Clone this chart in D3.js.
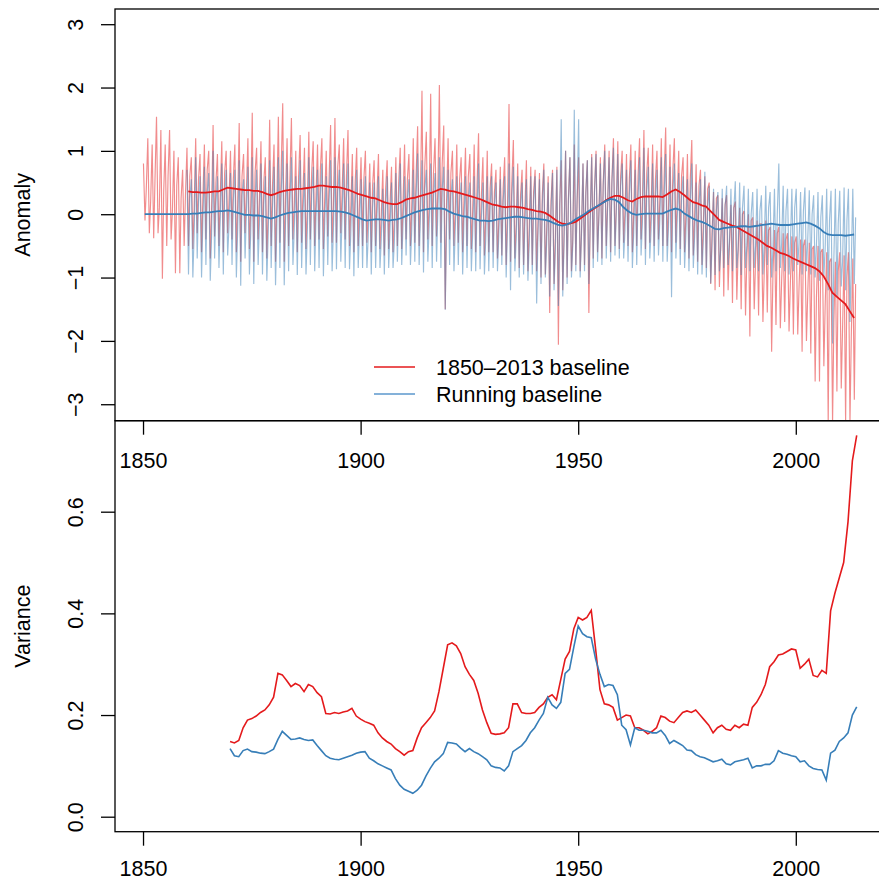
<!doctype html>
<html>

<head>
  <meta charset="utf-8">
  <title>Anomaly and variance</title>
  <script src="https://d3js.org/d3.v7.min.js"></script>
  <style>
    body {
      margin: 0;
      background: #fff;
    }

    svg {
      display: block;
      font-family: "Liberation Sans", Arial, Helvetica, sans-serif;
    }
  </style>
</head>

<body>
  <div id="chart"></div>

  <script>
    // ---- data ----
    var xTicks = [1850, 1900, 1950, 2000];
    var anomalyTicks = [-3, -2, -1, 0, 1, 2, 3];
    var varianceTicks = [0.0, 0.2, 0.4, 0.6];
    var legendLabels = ["1850\u20132013 baseline", "Running baseline"];

    // monthly anomaly, summarised per year as a high, a low and an in-between value
    var redStart = 1850;
    var redHi = [
      0.80, 1.20, 1.10, 1.54, 1.33, 1.10, 1.33, 1.00, 0.90, 0.70,
      1.05, 0.90, 1.20, 0.95, 1.10, 1.00, 1.41, 0.95, 1.15, 1.00,
      1.00, 1.10, 1.44, 0.95, 1.20, 1.60, 1.05, 1.15, 0.90, 1.49,
      1.10, 1.54, 1.75, 1.20, 1.52, 1.00, 1.25, 1.05, 1.30, 1.15,
      1.10, 1.20, 1.00, 1.41, 1.52, 1.10, 1.20, 1.33, 0.95, 1.05,
      0.90, 1.00, 0.80, 0.85, 0.95, 0.70, 0.85, 0.75, 0.90, 1.05,
      1.10, 0.95, 1.20, 1.39, 1.95, 1.30, 1.90, 1.20, 2.04, 1.40,
      1.20, 1.00, 1.10, 0.90, 1.05, 0.95, 1.10, 1.28, 0.90, 1.00,
      0.80, 0.70, 0.75, 0.90, 1.74, 1.17, 0.80, 0.70, 0.85, 0.75,
      0.70, 0.65, 0.80, 0.60, 0.70, 0.75, 0.85, 1.00, 0.90, 1.10,
      0.90, 0.80, 0.85, 0.95, 1.00, 0.90, 1.10, 1.00, 1.20, 1.15,
      1.00, 0.95, 1.10, 1.00, 1.20, 1.33, 1.05, 1.10, 1.00, 1.20,
      1.37, 1.10, 1.20, 1.00, 0.90, 0.95, 1.17, 0.79, 0.70, 0.60,
      0.50, 0.35, 0.30, 0.25, 0.30, 0.15, 0.20, 0.10, 0.05, 0.00,
      -0.05, -0.10, -0.15, -0.10, -0.20, -0.25, -0.20, -0.30, -0.30, -0.35,
      -0.35, -0.40, -0.40, -0.45, -0.50, -0.50, -0.55, -0.60, -0.70, -0.75,
      -0.60, -0.65, -0.60, -0.70
    ];
    var redLo = [
      -0.10, -0.30, -0.38, -0.30, -1.02, -0.50, -0.40, -0.93, -0.93, -0.50,
      -0.50, -0.55, -0.30, -0.60, -0.40, -0.70, -0.35, -0.50, -0.60, -0.30,
      -0.40, -0.60, -0.75, -0.30, -0.55, -0.75, -0.40, -0.60, -0.70, -0.50,
      -0.75, -0.45, -0.75, -0.50, -0.40, -0.60, -0.45, -0.55, -0.40, -0.50,
      -0.40, -0.55, -0.35, -0.45, -0.45, -0.30, -0.40, -0.50, -0.60, -0.50,
      -0.50, -0.45, -0.60, -0.50, -0.55, -0.65, -0.55, -0.60, -0.50, -0.55,
      -0.40, -0.50, -0.45, -0.50, -0.60, -0.40, -0.50, -0.35, -0.45, -1.50,
      -0.40, -0.50, -0.45, -0.60, -0.50, -0.55, -0.60, -0.50, -0.65, -0.60,
      -0.60, -0.70, -0.65, -0.80, -0.75, -0.70, -0.85, -0.80, -0.90, -0.80,
      -0.90, -1.00, -0.95, -1.56, -1.10, -2.06, -1.20, -1.00, -0.90, -0.80,
      -0.90, -0.80, -1.56, -0.70, -0.60, -0.70, -0.50, -0.60, -0.50, -0.55,
      -0.45, -0.50, -0.60, -0.50, -0.40, -0.55, -0.45, -0.50, -0.40, -0.50,
      -0.50, -0.60, -0.45, -0.55, -0.60, -0.70, -0.65, -0.75, -0.80, -0.85,
      -1.10, -1.20, -1.15, -1.30, -1.20, -1.40, -1.35, -1.50, -1.60, -1.93,
      -1.50, -1.60, -1.70, -1.55, -2.17, -1.75, -1.80, -1.70, -1.85, -1.90,
      -1.90, -2.17, -2.00, -2.20, -2.64, -2.64, -2.40, -3.30, -3.30, -2.80,
      -2.75, -3.30, -3.30, -2.93
    ];
    var redMid = [
      0.40, 0.20, 0.55, 0.10, 0.35, 0.60, 0.05, 0.45, 0.25, 0.30,
      0.60, 0.10, 0.55, 0.25, 0.70, 0.05, 0.50, 0.30, 0.65, 0.20,
      0.55, 0.15, 0.60, 0.35, 0.10, 0.65, 0.25, 0.50, 0.05, 0.45,
      0.20, 0.70, 0.30, 0.55, 0.15, 0.60, 0.35, 0.10, 0.65, 0.30,
      0.70, 0.25, 0.55, 0.15, 0.75, 0.35, 0.60, 0.10, 0.50, 0.20,
      0.55, 0.05, 0.45, 0.30, 0.00, 0.40, 0.15, -0.05, 0.50, 0.20,
      0.55, 0.10, 0.60, 0.30, 0.75, 0.15, 0.65, 0.40, 0.80, 0.20,
      0.65, 0.10, 0.55, 0.25, 0.60, 0.05, 0.45, 0.30, -0.05, 0.40,
      0.35, -0.10, 0.40, 0.05, 0.50, -0.15, 0.30, 0.10, -0.20, 0.35,
      -0.15, 0.30, -0.25, 0.20, -0.35, 0.15, -0.30, 0.25, -0.40, 0.20,
      -0.30, 0.35, -0.10, 0.40, 0.00, 0.50, 0.15, 0.55, 0.10, 0.60,
      0.05, 0.55, 0.00, 0.60, 0.15, 0.65, 0.05, 0.55, 0.20, 0.60,
      0.10, 0.70, 0.25, 0.60, 0.00, 0.55, -0.05, 0.45, -0.15, 0.40,
      -0.30, 0.25, -0.45, 0.15, -0.50, 0.10, -0.60, 0.00, -0.70, -0.10,
      -0.75, -0.15, -0.90, -0.25, -0.95, -0.30, -1.05, -0.40, -1.10, -0.45,
      -1.15, -0.50, -1.25, -0.55, -1.30, -0.60, -1.45, -0.75, -1.70, -0.90,
      -1.80, -1.00, -1.95, -1.10
    ];

    var bluStart = 1860;
    var bluHi = [
      0.70, 0.55, 0.90, 0.60, 0.75, 0.65, 1.00, 0.60, 0.80, 0.70,
      0.65, 0.70, 0.85, 0.55, 0.75, 0.90, 0.70, 0.80, 0.60, 0.85,
      0.75, 0.90, 1.00, 0.80, 0.90, 0.60, 0.85, 0.65, 0.90, 0.75,
      0.70, 0.80, 0.60, 0.85, 0.90, 0.70, 0.80, 0.80, 0.60, 0.70,
      0.55, 0.60, 0.50, 0.50, 0.60, 0.40, 0.60, 0.50, 0.65, 0.80,
      0.60, 0.55, 0.70, 0.96, 0.85, 0.70, 0.80, 0.65, 0.90, 0.75,
      0.70, 0.55, 0.60, 0.50, 0.60, 0.50, 0.60, 0.80, 0.50, 0.60,
      0.60, 0.50, 0.55, 0.60, 0.80, 0.75, 0.60, 0.50, 0.55, 0.60,
      0.60, 0.55, 0.70, 0.50, 0.65, 0.70, 1.50, 1.00, 0.90, 1.65,
      1.50, 0.80, 0.85, 0.90, 0.95, 0.80, 1.00, 0.90, 1.05, 0.95,
      0.80, 0.70, 0.85, 0.70, 0.90, 1.05, 0.75, 0.80, 0.70, 0.90,
      0.95, 0.75, 0.80, 0.65, 0.60, 0.55, 0.80, 0.50, 0.55, 0.67,
      0.45, 0.40, 0.35, 0.40, 0.45, 0.40, 0.52, 0.50, 0.45, 0.40,
      0.35, 0.40, 0.30, 0.45, 0.35, 0.40, 0.80, 0.45, 0.40, 0.40,
      0.40, 0.35, 0.42, 0.38, 0.30, 0.35, 0.30, 0.40, 0.37, 0.40,
      0.37, 0.42, 0.40, 0.40
    ];
    var bluLo = [
      -0.95, -1.00, -0.70, -1.00, -0.80, -1.05, -0.70, -0.85, -0.95, -0.65,
      -0.80, -1.00, -1.13, -0.70, -0.95, -1.10, -0.80, -0.95, -1.05, -0.85,
      -1.12, -0.85, -1.12, -0.90, -0.80, -0.96, -0.85, -0.95, -0.80, -0.90,
      -0.85, -0.98, -0.80, -0.90, -0.87, -0.75, -0.85, -0.87, -0.98, -0.85,
      -0.85, -0.85, -0.95, -0.85, -0.85, -0.95, -0.85, -0.85, -0.75, -0.80,
      -0.65, -0.80, -0.75, -0.80, -0.92, -0.75, -0.85, -0.75, -0.85, -1.51,
      -0.80, -0.90, -0.80, -0.95, -0.85, -0.90, -0.90, -0.87, -0.95, -0.90,
      -0.85, -0.90, -0.80, -1.00, -1.20, -0.90, -1.00, -0.95, -1.05, -0.95,
      -1.41, -1.10, -1.00, -1.30, -1.20, -1.45, -1.30, -1.10, -1.00, -0.90,
      -1.00, -0.90, -1.10, -0.85, -0.75, -0.80, -0.70, -0.75, -0.65, -0.70,
      -0.70, -0.75, -0.85, -0.80, -0.65, -0.80, -0.70, -0.75, -0.65, -0.75,
      -0.75, -1.31, -0.70, -0.80, -0.85, -0.90, -0.85, -0.95, -0.95, -1.00,
      -1.09, -0.96, -0.90, -0.85, -0.80, -0.90, -0.85, -0.96, -0.85, -0.90,
      -0.85, -0.90, -0.95, -0.80, -1.00, -0.90, -0.85, -0.90, -0.95, -0.90,
      -0.80, -0.95, -0.90, -0.95, -1.00, -1.05, -0.98, -1.20, -2.04, -1.30,
      -1.14, -1.20, -1.70, -1.10
    ];
    var bluMid = [
      0.25, -0.30, 0.20, -0.10, 0.35, -0.35, 0.15, -0.05, 0.30, -0.20,
      0.20, -0.25, 0.30, 0.00, -0.30, 0.25, -0.15, 0.15, -0.35, 0.10,
      -0.20, 0.35, -0.10, 0.20, -0.25, 0.25, 0.00, -0.30, 0.30, -0.05,
      0.30, -0.15, 0.20, -0.25, 0.35, 0.00, 0.25, -0.30, 0.15, -0.20,
      0.20, -0.35, 0.10, -0.05, -0.40, 0.05, -0.25, -0.45, 0.15, -0.15,
      0.25, -0.25, 0.30, 0.00, 0.40, -0.20, 0.30, 0.05, 0.40, -0.15,
      0.30, -0.25, 0.20, -0.10, 0.25, -0.30, 0.10, -0.05, -0.40, 0.10,
      0.15, -0.35, 0.20, -0.20, 0.30, -0.40, 0.10, -0.15, -0.45, 0.20,
      -0.35, 0.15, -0.45, 0.05, -0.55, 0.00, -0.45, 0.20, -0.50, 0.25,
      -0.35, 0.30, -0.15, 0.35, -0.05, 0.45, 0.10, 0.50, 0.05, 0.45,
      -0.25, 0.30, -0.30, 0.25, -0.15, 0.35, -0.25, 0.25, -0.10, 0.30,
      -0.20, 0.35, -0.10, 0.30, -0.30, 0.20, -0.35, 0.15, -0.40, 0.10,
      -0.50, 0.05, -0.55, 0.10, -0.45, 0.05, -0.55, 0.10, -0.50, 0.00,
      -0.50, 0.05, -0.45, 0.10, -0.55, 0.00, -0.45, 0.05, -0.50, 0.10,
      -0.45, 0.05, -0.40, 0.00, -0.50, -0.05, -0.55, -0.10, -0.70, -0.15,
      -0.75, -0.10, -0.80, -0.05
    ];

    // running means (one value per year)
    var redMeanStart = 1860;
    var redMean = [
      0.36, 0.35, 0.35, 0.34, 0.34, 0.35, 0.36, 0.36, 0.39, 0.42,
      0.41, 0.40, 0.39, 0.38, 0.38, 0.37, 0.37, 0.35, 0.32, 0.30,
      0.32, 0.35, 0.37, 0.38, 0.39, 0.40, 0.40, 0.41, 0.42, 0.43,
      0.45, 0.45, 0.44, 0.43, 0.43, 0.42, 0.40, 0.38, 0.35, 0.32,
      0.30, 0.28, 0.26, 0.25, 0.22, 0.19, 0.17, 0.16, 0.16, 0.19,
      0.23, 0.25, 0.26, 0.28, 0.30, 0.32, 0.34, 0.37, 0.40, 0.39,
      0.37, 0.36, 0.34, 0.32, 0.30, 0.28, 0.26, 0.24, 0.21, 0.18,
      0.15, 0.14, 0.12, 0.11, 0.12, 0.12, 0.11, 0.10, 0.08, 0.07,
      0.05, 0.04, 0.02, -0.02, -0.07, -0.12, -0.15, -0.16, -0.14, -0.12,
      -0.07, -0.02, 0.03, 0.08, 0.12, 0.17, 0.22, 0.26, 0.29, 0.29,
      0.26, 0.22, 0.20, 0.24, 0.27, 0.28, 0.28, 0.28, 0.28, 0.27,
      0.31, 0.36, 0.39, 0.35, 0.30, 0.24, 0.19, 0.17, 0.14, 0.12,
      0.05, -0.02, -0.09, -0.12, -0.15, -0.18, -0.20, -0.24, -0.28, -0.32,
      -0.36, -0.40, -0.45, -0.50, -0.53, -0.57, -0.61, -0.63, -0.66, -0.70,
      -0.73, -0.76, -0.79, -0.82, -0.85, -0.90, -0.98, -1.10, -1.24, -1.30,
      -1.36, -1.42, -1.53, -1.64
    ];
    var bluMeanStart = 1850;
    var bluMean = [
      0.00, 0.00, 0.00, 0.00, 0.00, 0.00, 0.00, 0.00, 0.00, 0.00,
      0.00, 0.01, 0.01, 0.02, 0.03, 0.03, 0.04, 0.05, 0.05, 0.06,
      0.05, 0.03, 0.01, -0.01, -0.01, -0.02, -0.02, -0.03, -0.05, -0.07,
      -0.05, -0.02, 0.00, 0.02, 0.03, 0.04, 0.05, 0.05, 0.05, 0.05,
      0.05, 0.05, 0.05, 0.05, 0.05, 0.04, 0.03, 0.01, -0.02, -0.05,
      -0.08, -0.10, -0.09, -0.08, -0.08, -0.09, -0.10, -0.09, -0.08, -0.06,
      -0.03, 0.00, 0.03, 0.05, 0.07, 0.08, 0.09, 0.09, 0.09, 0.08,
      0.04, 0.01, -0.01, -0.03, -0.04, -0.06, -0.08, -0.10, -0.10, -0.11,
      -0.10, -0.08, -0.07, -0.06, -0.05, -0.04, -0.04, -0.05, -0.06, -0.07,
      -0.07, -0.08, -0.09, -0.11, -0.14, -0.17, -0.18, -0.16, -0.13, -0.08,
      -0.04, 0.00, 0.05, 0.09, 0.13, 0.17, 0.21, 0.24, 0.23, 0.19,
      0.11, 0.05, 0.01, -0.01, 0.00, 0.01, 0.01, 0.01, 0.01, 0.01,
      0.04, 0.07, 0.09, 0.07, 0.01, -0.03, -0.07, -0.10, -0.12, -0.15,
      -0.19, -0.23, -0.24, -0.22, -0.21, -0.20, -0.20, -0.19, -0.19, -0.20,
      -0.19, -0.18, -0.17, -0.16, -0.15, -0.16, -0.17, -0.17, -0.17, -0.16,
      -0.15, -0.14, -0.13, -0.15, -0.18, -0.22, -0.28, -0.32, -0.33, -0.33,
      -0.33, -0.34, -0.33, -0.32
    ];

    // running variance (one value per year, 1870..2014)
    var varStart = 1870;
    var redVar = [
      0.148, 0.145, 0.150, 0.175, 0.190, 0.193, 0.198, 0.205, 0.210, 0.220,
      0.235, 0.282, 0.279, 0.268, 0.256, 0.262, 0.258, 0.246, 0.260, 0.256,
      0.244, 0.236, 0.203, 0.202, 0.205, 0.203, 0.206, 0.208, 0.213, 0.198,
      0.192, 0.187, 0.184, 0.180, 0.165, 0.155, 0.148, 0.143, 0.134, 0.128,
      0.121, 0.128, 0.130, 0.155, 0.175, 0.185, 0.195, 0.208, 0.246, 0.292,
      0.338, 0.342, 0.336, 0.321, 0.295, 0.280, 0.268, 0.243, 0.210, 0.185,
      0.164, 0.162, 0.163, 0.165, 0.175, 0.222, 0.222, 0.205, 0.203, 0.203,
      0.205, 0.215, 0.222, 0.235, 0.240, 0.230, 0.270, 0.310, 0.325, 0.370,
      0.392, 0.387, 0.392, 0.406, 0.330, 0.250, 0.222, 0.220, 0.215, 0.190,
      0.195, 0.200, 0.198, 0.175, 0.175, 0.170, 0.163, 0.168, 0.175, 0.198,
      0.195, 0.188, 0.185, 0.195, 0.205, 0.208, 0.205, 0.210, 0.200, 0.190,
      0.180, 0.165, 0.175, 0.180, 0.172, 0.170, 0.180, 0.175, 0.182, 0.180,
      0.215, 0.225, 0.240, 0.260, 0.295, 0.305, 0.318, 0.320, 0.325, 0.330,
      0.328, 0.292, 0.300, 0.310, 0.278, 0.275, 0.288, 0.282, 0.405, 0.440,
      0.470, 0.500, 0.580, 0.700, 0.750
    ];
    var bluVar = [
      0.134, 0.120, 0.118, 0.130, 0.133, 0.128, 0.127, 0.125, 0.124, 0.128,
      0.133, 0.152, 0.168, 0.160, 0.152, 0.153, 0.155, 0.152, 0.150, 0.151,
      0.140, 0.130, 0.120, 0.115, 0.113, 0.112, 0.115, 0.118, 0.121, 0.125,
      0.127, 0.128, 0.115, 0.110, 0.104, 0.100, 0.096, 0.092, 0.075, 0.062,
      0.054, 0.050, 0.046, 0.052, 0.062, 0.080, 0.095, 0.108, 0.115, 0.124,
      0.146, 0.145, 0.143, 0.135, 0.128, 0.134, 0.128, 0.124, 0.118, 0.112,
      0.100, 0.097, 0.096, 0.090, 0.100, 0.128, 0.134, 0.140, 0.150, 0.165,
      0.175, 0.190, 0.203, 0.235, 0.220, 0.213, 0.225, 0.282, 0.290, 0.334,
      0.375, 0.360, 0.354, 0.352, 0.310, 0.280, 0.256, 0.260, 0.258, 0.240,
      0.180, 0.171, 0.141, 0.175, 0.170, 0.170, 0.168, 0.165, 0.165, 0.170,
      0.160, 0.144, 0.150, 0.145, 0.140, 0.131, 0.130, 0.122, 0.118, 0.116,
      0.112, 0.108, 0.110, 0.113, 0.104, 0.102, 0.108, 0.110, 0.112, 0.115,
      0.096, 0.100, 0.100, 0.103, 0.103, 0.110, 0.130, 0.125, 0.123, 0.120,
      0.118, 0.108, 0.110, 0.100, 0.095, 0.093, 0.092, 0.072, 0.125, 0.131,
      0.148, 0.155, 0.165, 0.200, 0.216
    ];

    // ---- layout ----
    var width = 879;
    var height = 882;
    var left = 115, right = 885;      // right edge runs off the canvas, as in the original
    var top1 = 9, mid = 420.7, bottom = 831.7;
    var fontSize = "21.5px";
    var red = "#e41a1c", blue = "#377eb8";

    var svg = d3.select("#chart")
      .append("svg")
      .attr("width", width)
      .attr("height", height);

    var x = d3.scaleLinear().domain([1843.56, 2020.5]).range([left, right]);
    var yA = d3.scaleLinear().domain([-3.26, 3.24]).range([mid, top1]);
    var yV = d3.scaleLinear().domain([-0.0295, 0.779]).range([bottom, mid]);

    // clip areas for the two panels
    var defs = svg.append("defs");
    defs.append("clipPath").attr("id", "clipA")
      .append("rect").attr("x", left).attr("y", top1).attr("width", right - left).attr("height", mid - top1);
    defs.append("clipPath").attr("id", "clipV")
      .append("rect").attr("x", left).attr("y", mid).attr("width", right - left).attr("height", bottom - mid);

    // three points per year: high, low, then the in-between value
    function yearPoints(start, hi, lo, md) {
      var pts = [];
      hi.forEach(function(h, i) {
        pts.push([start + i + 0.1, h]);
        pts.push([start + i + 0.45, lo[i]]);
        pts.push([start + i + 0.75, md[i]]);
      });
      return pts;
    }

    function yearly(start, vals, off) {
      return vals.map(function(v, i) {
        return [start + i + off, v];
      });
    }

    var lineA = d3.line()
      .x(function(d) { return x(d[0]); })
      .y(function(d) { return yA(d[1]); });
    var lineV = d3.line()
      .x(function(d) { return x(d[0]); })
      .y(function(d) { return yV(d[1]); });

    // ---- top panel: anomaly ----
    var gA = svg.append("g").attr("clip-path", "url(#clipA)");

    gA.append("path")
      .attr("d", lineA(yearPoints(redStart, redHi, redLo, redMid)))
      .attr("fill", "none")
      .attr("stroke", red)
      .attr("stroke-opacity", 0.5)
      .attr("stroke-width", 1.15);

    gA.append("path")
      .attr("d", lineA(yearPoints(bluStart, bluHi, bluLo, bluMid)))
      .attr("fill", "none")
      .attr("stroke", blue)
      .attr("stroke-opacity", 0.5)
      .attr("stroke-width", 1.15);

    gA.append("path")
      .attr("d", lineA(yearly(redMeanStart, redMean, 0.4)))
      .attr("fill", "none")
      .attr("stroke", red)
      .attr("stroke-width", 1.8);

    gA.append("path")
      .attr("d", lineA(yearly(bluMeanStart, bluMean, 0.4)))
      .attr("fill", "none")
      .attr("stroke", blue)
      .attr("stroke-width", 1.8);

    // legend
    var legend = svg.append("g");
    legendLabels.forEach(function(lab, i) {
      var ly = 367 + i * 27;
      legend.append("line")
        .attr("x1", 374).attr("x2", 415)
        .attr("y1", ly).attr("y2", ly)
        .attr("stroke", i == 0 ? red : "#5b97cc")
        .attr("stroke-width", 1.6);
      legend.append("text")
        .attr("x", 436)
        .attr("y", ly + 7.7)
        .style("font-size", fontSize)
        .text(lab);
    });

    // ---- bottom panel: variance ----
    var gV = svg.append("g").attr("clip-path", "url(#clipV)");

    gV.append("path")
      .attr("d", lineV(yearly(varStart, redVar, 0)))
      .attr("fill", "none")
      .attr("stroke", red)
      .attr("stroke-width", 1.6);

    gV.append("path")
      .attr("d", lineV(yearly(varStart, bluVar, 0)))
      .attr("fill", "none")
      .attr("stroke", blue)
      .attr("stroke-width", 1.6);

    // ---- frames ----
    [[top1, mid], [mid, bottom]].forEach(function(p) {
      svg.append("rect")
        .attr("x", left).attr("y", p[0])
        .attr("width", right - left).attr("height", p[1] - p[0])
        .attr("fill", "none")
        .attr("stroke", "#000")
        .attr("stroke-width", 1.3);
    });

    // ---- axes ----
    function styleAxis(g) {
      g.select(".domain").remove();
      g.selectAll("line").attr("stroke", "#000").attr("stroke-width", 1.3);
      g.selectAll("text").style("font-size", fontSize).attr("fill", "#000")
        .style("font-family", "'Liberation Sans', Arial, Helvetica, sans-serif");
    }

    [[mid, 18], [bottom, 15]].forEach(function(a) {
      svg.append("g")
        .attr("transform", "translate(0," + a[0] + ")")
        .call(d3.axisBottom(x).tickValues(xTicks).tickSize(14).tickPadding(a[1]).tickFormat(d3.format("d")))
        .call(styleAxis);
    });

    function rotateLabels(g) {
      g.selectAll("text")
        .attr("transform", "rotate(-90)")
        .attr("x", 0)
        .attr("y", -32)
        .attr("dy", null)
        .style("text-anchor", "middle");
    }

    svg.append("g")
      .attr("transform", "translate(" + left + ",0)")
      .call(d3.axisLeft(yA).tickValues(anomalyTicks).tickSize(14).tickFormat(d3.format("d")))
      .call(styleAxis)
      .call(rotateLabels);

    svg.append("g")
      .attr("transform", "translate(" + left + ",0)")
      .call(d3.axisLeft(yV).tickValues(varianceTicks).tickSize(14).tickFormat(d3.format(".1f")))
      .call(styleAxis)
      .call(rotateLabels);

    // axis titles
    svg.append("text")
      .attr("transform", "translate(30," + (top1 + mid) / 2 + ")rotate(-90)")
      .style("text-anchor", "middle")
      .style("font-size", fontSize)
      .text("Anomaly");

    svg.append("text")
      .attr("transform", "translate(30," + (mid + bottom) / 2 + ")rotate(-90)")
      .style("text-anchor", "middle")
      .style("font-size", fontSize)
      .text("Variance");
  </script>

</body>

</html>
